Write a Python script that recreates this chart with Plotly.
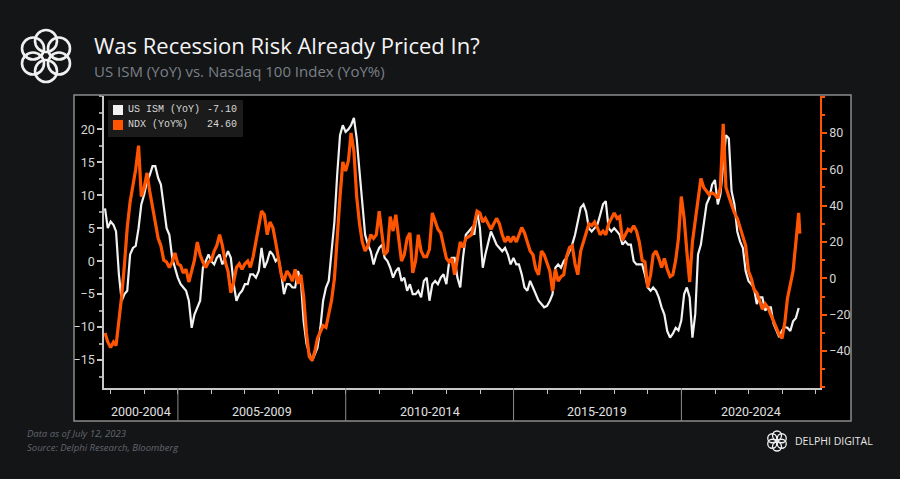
import math
import pandas as pd
import plotly.graph_objects as go

# ---------------- data ----------------
start_month = "2002-10-31"          # first monthly observation (month-end)
ndx_last_date = "2023-07-12"        # last daily NDX print

ism_yoy = [
    8.0, 5.0, 6.0,                                                        # 2002 Oct-Dec
    5.5, 4.5, -2.0, -6.0, -5.0, -4.5, 1.0, 2.0, 2.3, 5.0, 8.6, 10.1,      # 2003
    12.1, 13.0, 14.4, 14.4, 12.6, 11.6, 8.6, 5.0, 4.0, 0.5, -1.0, -2.5,   # 2004
    -3.5, -4.0, -4.5, -6.0, -10.1, -8.1, -7.0, -6.0, -1.0, 0.0, 1.0, 0.0, # 2005
    -0.5, 0.5, 1.0, -0.5, 0.5, 1.5, 0.5, -3.5, -6.0, -5.0, -4.5, -3.5,    # 2006
    -3.5, -2.0, -2.0, -2.5, -1.5, 2.0, -1.0, 0.0, 1.5, 1.0, 0.0, 0.5,     # 2007
    -2.0, -5.0, -3.5, -3.5, -4.0, -4.0, -1.5, -3.0, -9.1, -12.5, -14.0, -15.1,  # 2008
    -14.1, -13.1, -10.1, -6.0, -4.0, -3.0, 1.5, 6.0, 13.1, 19.1, 20.6, 19.6,    # 2009
    20.0, 20.6, 21.7, 18.6, 13.6, 8.6, 4.0, 2.5, 1.5, -0.5, 1.0, 2.0,     # 2010
    2.5, 0.5, 0.0, -1.0, -2.5, -1.5, -1.0, -3.0, -2.5, -4.5, -3.5, -5.0,  # 2011
    -5.0, -4.5, -5.5, -3.0, -2.5, -6.0, -3.5, -3.0, -3.5, -2.5, -2.0, -3.5,  # 2012
    0.0, 0.5, 0.5, -2.5, -4.0, 0.5, 4.0, 4.5, 5.0, 4.0, 7.6, 5.0,         # 2013
    -1.0, 1.0, 3.0, 4.5, 3.5, 2.5, 2.0, 1.5, 2.0, 1.0, -0.5, 0.5,         # 2014
    -0.5, -0.5, -2.0, -4.0, -4.5, -3.0, -4.0, -5.0, -6.0, -6.5, -7.0, -6.8,  # 2015
    -6.0, -5.0, -1.0, -0.5, -1.0, 0.0, 0.5, 1.5, 2.5, 4.0, 6.0, 8.1,      # 2016
    8.6, 7.5, 5.0, 4.5, 5.0, 5.5, 7.0, 8.6, 9.1, 5.0, 4.5, 5.0,           # 2017
    4.5, 4.0, 2.5, 3.0, 2.5, 2.5, 0.0, -0.5, -0.5, -0.5, -2.0, -4.0,      # 2018
    -4.5, -4.0, -4.5, -5.5, -7.0, -8.1, -10.6, -11.6, -11.0, -10.1, -10.5, -9.0,  # 2019
    -5.0, -4.0, -5.5, -11.6, -8.0, 1.0, 2.5, 6.0, 8.6, 9.6, 11.6, 12.3,   # 2020
    8.6, 10.1, 15.0, 19.1, 18.6, 10.6, 8.6, 4.5, 3.0, 2.0, -1.5, -3.0,    # 2021
    -3.5, -4.0, -6.5, -5.5, -5.5, -7.5, -7.0, -7.0, -9.5, -10.5, -11.5, -10.5,  # 2022
    -10.0, -10.1, -10.6, -9.1, -8.6, -7.1,                                # 2023 Jan-Jun
]

ndx_yoy = [
    -30, -35, -38,                                                        # 2002 Oct-Dec
    -35, -37, -25, -10, 8, 28, 42, 50, 60, 73, 45, 50,                    # 2003
    58, 48, 40, 30, 22, 18, 10, 9, 6, 9, 14, 8,                           # 2004
    7, 3, 5, -2, 4, 10, 20, 13, 9, 6, 9, 10,                              # 2005
    15, 18, 24, 18, 9, 4, -8, -2, 6, 8, 5, 8,                             # 2006
    9.5, 6, 12, 20, 28, 37, 35, 24, 31, 28, 20, 12,                       # 2007
    2, -1.5, 4, 2, -1.5, 5, -3, 2, -10, -30, -43, -45,                    # 2008
    -40, -33, -29, -26, -27, -20, -12, 0, 25, 45, 64, 59,                 # 2009
    65, 80, 70, 45, 30, 20, 15, 18, 24, 22, 24, 37,                       # 2010
    24, 13, 15, 34, 26, 35, 22, 9.5, 13, 22, 25, 3,                       # 2011
    9.5, 24, 15, 12, 12, 16, 36, 32, 27, 25, 17, 11,                      # 2012
    9, 11, 2, 10, 20, 17, 22, 23, 24, 30, 37, 36,                         # 2013
    31, 33, 30, 27, 30, 33, 30, 24, 20, 23, 20, 23,                       # 2014
    20, 24, 28, 25, 20, 15, 13, 5, 2, 15, 13, 8,                          # 2015
    4, -7, 5, -1.5, 1, 2, 12, 17, 18, 8, 2, 15,                           # 2016
    20, 24, 30, 29, 31, 28, 24, 26, 24, 30, 33, 36,                       # 2017
    33, 34, 21, 24, 27, 26, 29, 26, 20, 10, 9, -5,                        # 2018
    2, 13, 15, 11, 6, 11, 5, 1, 2, 10, 22, 45,                            # 2019
    33, 15, -2, 20, 33, 45, 55, 50, 48, 46, 47, 46,                       # 2020
    44, 50, 85, 50, 45, 40, 36, 33, 28, 22, 18, 4,                        # 2021
    0, -6, -8, -12, -17, -14, -16, -20, -24, -28, -31, -33,               # 2022
    -24, -11, -4, 4, 20, 36, 24.6,                                        # 2023 Jan-Jun + Jul 12
]

period_labels = ["2000-2004", "2005-2009", "2010-2014", "2015-2019", "2020-2024"]
period_starts = ["2000-01-01", "2005-01-01", "2010-01-01", "2015-01-01", "2020-01-01"]
x_range = ["2002-10-20", "2024-02-17"]
left_ticks = [-15, -10, -5, 0, 5, 10, 15, 20]
right_ticks = [-40, -20, 0, 20, 40, 60, 80]
left_range = [-19.23, 25.03]
right_range = [-60.3, 100.3]

ism_name = "US ISM (YoY)"
ndx_name = "NDX (YoY%)"
title = "Was Recession Risk Already Priced In?"
subtitle = "US ISM (YoY) vs. Nasdaq 100 Index (YoY%)"
foot1 = "Data as of July 12, 2023"
foot2 = "Source: Delphi Research, Bloomberg"

# ---------------- styling ----------------
W, H = 900, 479
L, R, T, B = 104, 80, 96, 91
PW, PH = W - L - R, H - T - B
ORANGE = "#ff5500"
WHITE = "#f2f2f2"
BG = "#141517"


def px(xp):
    return (xp - L) / PW


def py(yp):
    return (H - B - yp) / PH


ism_dates = pd.date_range(start_month, periods=len(ism_yoy), freq="ME")
ndx_dates = list(pd.date_range(start_month, periods=len(ndx_yoy) - 1, freq="ME")) + [pd.Timestamp(ndx_last_date)]

fig = go.Figure()
fig.add_trace(go.Scatter(x=ism_dates, y=ism_yoy, mode="lines", name=ism_name,
                         line=dict(color=WHITE, width=2.2), yaxis="y"))
fig.add_trace(go.Scatter(x=ndx_dates, y=ndx_yoy, mode="lines", name=ndx_name,
                         line=dict(color=ORANGE, width=3.2), yaxis="y2"))

year_ticks = pd.date_range("2003-01-01", "2024-01-01", freq="YS")

fig.update_layout(
    width=W, height=H,
    paper_bgcolor=BG, plot_bgcolor="#000000",
    margin=dict(l=L, r=R, t=T, b=B),
    showlegend=False,
    font=dict(family="Roboto, Open Sans, sans-serif", color="#d6d6d6"),
    xaxis=dict(type="date", range=x_range, showgrid=False, zeroline=False,
               showline=True, linecolor="#c8c8c8", linewidth=1.5,
               tickmode="array", tickvals=year_ticks, showticklabels=False,
               ticks="outside", ticklen=4, tickcolor="#c8c8c8"),
    yaxis=dict(range=left_range, tickmode="array", tickvals=left_ticks,
               showgrid=False, zeroline=False, showline=True,
               linecolor="#c8c8c8", linewidth=1.5,
               ticks="outside", ticklen=5, tickcolor="#c8c8c8", tickwidth=1.5,
               tickfont=dict(size=12.5, color="#d6d6d6",
                             family="Liberation Sans Narrow, Roboto, sans-serif"),
               minor=dict(tickmode="linear", tick0=0, dtick=2.5, ticks="outside",
                          ticklen=3, tickcolor="#9a9a9a")),
    yaxis2=dict(range=right_range, overlaying="y", side="right",
                tickmode="array", tickvals=right_ticks,
                showgrid=False, zeroline=False, showline=True,
                linecolor=ORANGE, linewidth=1.5,
                ticks="outside", ticklen=5, tickcolor=ORANGE, tickwidth=1.5,
                tickfont=dict(size=12.5, color="#d6d6d6",
                              family="Liberation Sans Narrow, Roboto, sans-serif"),
                minor=dict(tickmode="linear", tick0=0, dtick=10, ticks="outside",
                           ticklen=3, tickcolor=ORANGE)),
)

shapes = []
# chart frame (black panel with grey border) incl. date label band
shapes.append(dict(type="rect", xref="paper", yref="paper",
                   x0=px(74), x1=px(851), y0=py(421), y1=py(95),
                   fillcolor="#000000", line=dict(color="#8c8c8c", width=1.5),
                   layer="below"))
# period separators in the date band
for s in period_starts[1:]:
    shapes.append(dict(type="line", xref="x", yref="paper", x0=s, x1=s,
                       y0=py(421), y1=0, line=dict(color="#8c8c8c", width=1)))

# legend box
shapes.append(dict(type="rect", xref="paper", yref="paper",
                   x0=px(108), x1=px(243), y0=py(137), y1=py(100),
                   fillcolor="#1b1b1b", line=dict(width=0)))
shapes.append(dict(type="rect", xref="paper", yref="paper",
                   x0=px(113), x1=px(123), y0=py(115), y1=py(105),
                   fillcolor=WHITE, line=dict(width=0)))
shapes.append(dict(type="rect", xref="paper", yref="paper",
                   x0=px(113), x1=px(123), y0=py(130), y1=py(120),
                   fillcolor=ORANGE, line=dict(width=0)))


def ring_logo(cx, cy, ring_r, loop_r, n, width):
    out = []
    for k in range(n):
        a = 2 * math.pi * k / n + math.pi / 2
        ccx = cx + ring_r * math.cos(a)
        ccy = cy + ring_r * math.sin(a)
        out.append(dict(type="circle", xref="paper", yref="paper",
                        x0=px(ccx - loop_r), x1=px(ccx + loop_r),
                        y0=py(ccy + loop_r), y1=py(ccy - loop_r),
                        line=dict(color="#f0f0f0", width=width)))
    return out


shapes += ring_logo(46, 56, 15, 11, 6, 2.6)
shapes += ring_logo(777, 441, 5.5, 4.5, 6, 1.3)

annotations = []
# title & subtitle
annotations.append(dict(text=title, xref="paper", yref="paper", x=px(92), y=py(45),
                        xanchor="left", yanchor="middle", showarrow=False,
                        font=dict(size=22, color="#f4f4f4", family="Open Sans, sans-serif")))
annotations.append(dict(text=subtitle, xref="paper", yref="paper", x=px(92), y=py(71),
                        xanchor="left", yanchor="middle", showarrow=False,
                        font=dict(size=15, color="#7b8088", family="Open Sans, sans-serif")))
# legend text
mono = "Liberation Mono, DejaVu Sans Mono, monospace"
for name, val, yy in [(ism_name, ism_yoy[-1], 110), (ndx_name, ndx_yoy[-1], 125)]:
    annotations.append(dict(text=name, xref="paper", yref="paper", x=px(126), y=py(yy),
                            xanchor="left", yanchor="middle", showarrow=False,
                            font=dict(size=10, color="#d8d8d8", family=mono)))
    annotations.append(dict(text=f"{val:.2f}", xref="paper", yref="paper", x=px(239), y=py(yy),
                            xanchor="right", yanchor="middle", showarrow=False,
                            font=dict(size=10, color="#d8d8d8", family=mono)))

# period labels, centred on the visible part of each period
bounds = [pd.Timestamp(x_range[0])] + [pd.Timestamp(s) for s in period_starts[1:]] + [pd.Timestamp(x_range[1])]
for i, lab in enumerate(period_labels):
    a, b = bounds[i], bounds[i + 1]
    mid = a + (b - a) / 2
    annotations.append(dict(text=lab, xref="x", yref="paper", x=mid, y=py(411),
                            xanchor="center", yanchor="middle", showarrow=False,
                            font=dict(size=12.5, color="#e0e0e0",
                                      family="Liberation Sans Narrow, Roboto, sans-serif")))

# footer
annotations.append(dict(text=f"<i>{foot1}</i>", xref="paper", yref="paper", x=px(25), y=py(433),
                        xanchor="left", yanchor="middle", showarrow=False,
                        font=dict(size=9.5, color="#62666d", family="Open Sans, sans-serif")))
annotations.append(dict(text=f"<i>{foot2}</i>", xref="paper", yref="paper", x=px(25), y=py(447),
                        xanchor="left", yanchor="middle", showarrow=False,
                        font=dict(size=9.5, color="#62666d", family="Open Sans, sans-serif")))
annotations.append(dict(text="DELPHI DIGITAL", xref="paper", yref="paper", x=px(793), y=py(441),
                        xanchor="left", yanchor="middle", showarrow=False,
                        font=dict(size=10.5, color="#e8e8e8", family="Open Sans, sans-serif")))

fig.update_layout(shapes=shapes, annotations=annotations)
fig.write_html("out.html")
